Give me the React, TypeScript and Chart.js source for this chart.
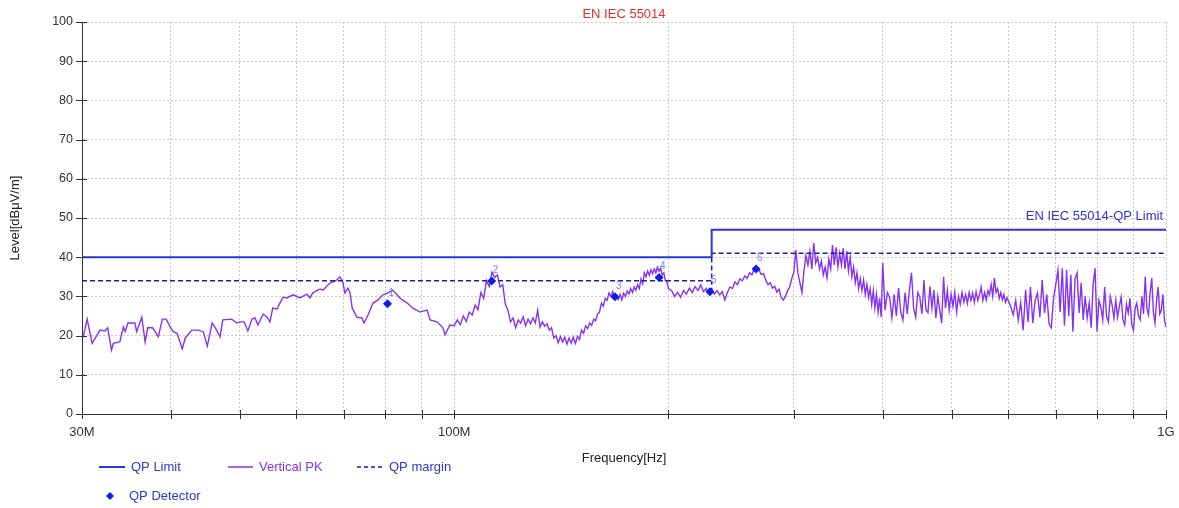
import { useEffect, useRef } from 'react';
import { Chart, registerables } from 'chart.js';

Chart.register(...registerables);

// ---------- data ----------
const gridFreqs = [30, 40, 50, 60, 70, 80, 90, 100, 200, 300, 400, 500, 600, 700, 800, 900, 1000];
const xLabelFreqs = [30, 100, 1000];
const xLabelTexts = ['30M', '100M', '1G'];
const yTicks = [0, 10, 20, 30, 40, 50, 60, 70, 80, 90, 100];

const limitFreq = [30, 230, 230, 1000];
const limitLevel = [40, 40, 47, 47];
const marginFreq = [30, 230, 230, 1000];
const marginLevel = [34, 34, 41, 41];
const dropFreq = [230, 230];
const dropLevel = [34, 31.2];

const qpFreq = [80.6, 112.9, 168.2, 194.0, 228.7, 265.5];
const qpLevel = [28.1, 33.9, 29.9, 34.8, 31.2, 37.0];
const qpLabels = ['1', '2', '3', '4', '5', '6'];

// Vertical PK trace, 30 – 100 MHz
const pkFreqLow = [
  30.1, 30.5, 31.0, 31.8, 32.3, 32.6, 33.0, 33.2, 33.9, 34.3, 34.5, 34.8, 35.6, 35.8, 36.4, 36.8, 37.1, 37.7, 38.4, 38.9,
  39.4, 39.9, 40.3, 40.8, 41.5, 41.9, 42.8, 43.7, 44.4, 45.0, 45.7, 46.1, 46.9, 47.3, 48.7, 49.5, 50.0, 50.7, 51.3, 52.0,
  52.5, 53.0, 53.9, 54.6, 55.1, 55.6, 56.4, 56.9, 57.5, 58.2, 59.4, 60.7, 62.1, 62.7, 63.3, 64.8, 65.4, 66.9, 68.2, 69.1,
  69.8, 70.2, 70.9, 71.4, 71.9, 73.0, 74.2, 74.7, 75.7, 76.9, 78.2, 79.4, 80.7, 82.0, 83.1, 83.9, 85.9, 87.5, 89.5, 91.6,
  92.5, 94.6, 96.4, 97.1, 98.6,
];
const pkLevelLow = [
  19.5, 24.2, 18.0, 21.4, 21.2, 22.0, 16.3, 18.0, 18.4, 22.2, 21.0, 23.2, 23.2, 21.0, 24.7, 18.4, 22.0, 22.0, 19.7, 24.2,
  24.2, 22.2, 21.0, 20.6, 16.6, 19.4, 21.4, 21.4, 21.0, 17.3, 23.2, 22.2, 19.7, 24.0, 24.2, 23.2, 23.5, 23.5, 21.2, 24.2,
  24.5, 22.7, 25.5, 24.7, 23.5, 27.0, 26.8, 28.3, 29.8, 29.6, 30.4, 29.6, 30.6, 29.6, 30.9, 31.9, 31.6, 33.4, 34.0, 35.0,
  33.4, 30.9, 32.1, 30.9, 27.0, 24.7, 24.5, 23.2, 25.3, 28.3, 29.1, 30.4, 30.9, 31.6, 30.4, 29.6, 28.3, 27.0, 26.0, 26.5,
  24.0, 23.5, 22.0, 20.2, 22.7,
];

// Vertical PK trace, 100 – 200 MHz
const pkFreqM1 = [
  100, 101, 102, 103, 104, 105, 106, 107, 108, 109, 110, 111, 112, 113, 114, 115, 116, 117, 118, 119,
  120, 121, 122, 123, 124, 125, 126, 127, 128, 129, 130, 131, 132, 133, 134, 135, 136, 137, 138, 139,
  140, 141, 142, 143, 144, 145, 146, 147, 148, 149, 150, 151, 152, 153, 154, 155, 156, 157, 158, 159,
  160, 161, 162, 163, 164, 165, 166, 167, 168, 169, 170, 171, 172, 173, 174, 175, 176, 177, 178, 179,
  180, 181, 182, 183, 184, 185, 186, 187, 188, 189, 190, 191, 192, 193, 194, 195, 196, 197, 198, 199,
  200,
];
const pkLevelM1 = [
  22.5, 24.0, 22.8, 25.0, 23.6, 26.0, 25.2, 27.8, 26.6, 31.0, 29.5, 34.0, 32.5, 36.2, 34.8, 35.5, 32.4, 33.0, 28.0, 26.5,
  23.5, 24.5, 22.0, 24.0, 23.2, 24.8, 22.5, 24.2, 23.0, 24.5, 23.2, 26.5, 22.2, 23.5, 22.4, 23.0, 21.4, 22.0, 19.4, 20.0,
  18.2, 19.8, 18.4, 19.6, 17.8, 19.4, 18.1, 19.6, 18.0, 19.8, 19.0, 21.4, 20.6, 22.5, 21.8, 23.2, 22.6, 24.2, 23.8, 25.5,
  26.0, 28.3, 27.5, 29.5, 29.0, 30.9, 30.0, 31.2, 29.6, 30.0, 29.2, 30.5, 29.1, 30.8, 30.0, 31.4, 30.6, 32.0, 31.0, 32.4,
  31.6, 33.0, 32.0, 34.5, 33.2, 36.0, 35.0, 36.5, 35.4, 36.8, 35.8, 37.0, 36.0, 37.5, 36.4, 37.2, 35.5, 36.0, 34.0, 33.7,
  32.0,
];

// Vertical PK trace, 200 – 300 MHz
const pkFreqM2 = [
  202, 204, 206, 208, 210, 212, 214, 216, 218, 220, 222, 224, 226, 228, 230, 232, 234, 236, 238, 240,
  242, 244, 246, 248, 250, 252, 254, 256, 258, 260, 262, 264, 266, 268, 270, 272, 274, 276, 278, 280,
  282, 284, 286, 288, 290, 292, 294, 296, 298,
];
const pkLevelM2 = [
  31.5, 30.0, 31.0, 29.8, 31.5, 30.6, 32.1, 31.0, 32.5, 31.5, 32.9, 31.2, 32.0, 30.8, 31.8, 30.6, 31.5, 30.4, 31.2, 29.1,
  31.0, 32.4, 32.0, 33.7, 33.0, 34.5, 34.0, 35.2, 34.6, 36.0, 35.5, 37.2, 36.5, 36.8, 35.6, 35.8, 34.2, 33.0, 33.5, 32.1,
  32.6, 31.1, 31.8, 29.8, 29.1, 30.0, 31.5, 32.4, 34.5,
];

// Vertical PK trace, 300 – 400 MHz
const pkFreqA = [
  300, 302, 304, 306, 308, 310, 312, 314, 316, 318, 320, 322, 324, 326, 328, 330, 332, 334, 336, 338,
  340, 342, 344, 346, 348, 350, 352, 354, 356, 358, 360, 362, 364, 366, 368, 370, 372, 374, 376, 378,
  380, 382, 384, 386, 388, 390, 392, 394, 396, 398, 400,
];
const pkLevelA = [
  36.2, 41.8, 36.0, 33.5, 31.0, 36.5, 40.5, 38.0, 41.5, 37.0, 43.6, 38.5, 40.0, 37.0, 39.0, 35.5, 37.5, 34.7, 39.5, 37.0,
  43.1, 38.0, 42.5, 37.5, 41.0, 38.0, 42.3, 37.0, 41.5, 36.5, 40.0, 35.0, 37.5, 33.5, 36.0, 32.0, 34.5, 31.5, 34.2, 30.5,
  33.0, 29.8, 32.0, 28.0, 31.5, 27.0, 30.5, 26.0, 29.5, 24.7, 38.5,
];

// Vertical PK trace, 400 – 600 MHz
const pkFreqB = [
  403, 406, 409, 412, 415, 418, 421, 424, 427, 430, 433, 436, 439, 442, 445, 448, 451, 454, 457, 460,
  463, 466, 469, 472, 475, 478, 481, 484, 487, 490, 493, 496, 499, 502, 505, 508, 511, 514, 517, 520,
  523, 526, 529, 532, 535, 538, 541, 544, 547, 550, 553, 556, 559, 562, 565, 568, 571, 574, 577, 580,
  583, 586, 589, 592, 595, 598,
];
const pkLevelB = [
  26.5, 31.0, 29.8, 24.5, 30.5, 25.0, 32.1, 26.0, 24.0, 31.0, 25.5, 31.6, 36.0, 27.0, 24.7, 31.0, 29.8, 25.5, 34.2, 26.5,
  25.8, 32.5, 27.0, 31.6, 24.5, 30.0, 26.5, 23.2, 35.0, 27.0, 31.5, 26.5, 30.5, 27.5, 31.1, 26.0, 30.0, 28.0, 31.0, 28.5,
  30.5, 28.2, 31.0, 29.0, 30.9, 28.5, 31.2, 29.0, 30.5, 32.4, 29.0, 31.0, 29.1, 31.5, 30.4, 33.0, 30.0, 34.7, 31.0, 32.0,
  29.5, 31.0, 29.1, 30.5, 28.5, 29.6,
];

// Vertical PK trace, 600 – 1000 MHz
const pkFreqC = [
  605, 610, 615, 620, 625, 630, 635, 640, 645, 650, 655, 660, 665, 670, 675, 680, 685, 690, 695, 700,
  705, 710, 715, 720, 725, 730, 735, 740, 745, 750, 755, 760, 765, 770, 775, 780, 785, 790, 795, 800,
  805, 810, 815, 820, 825, 830, 835, 840, 845, 850, 855, 860, 865, 870, 875, 880, 885, 890, 895, 900,
  905, 910, 915, 920, 925, 930, 935, 940, 945, 950, 955, 960, 965, 970, 975, 980, 985, 990, 995, 1000,
];
const pkLevelC = [
  27.5, 25.3, 29.0, 24.0, 28.5, 21.4, 31.6, 23.5, 32.4, 23.2, 29.0, 30.9, 24.7, 34.2, 25.8, 30.5, 23.0, 22.0, 29.5, 33.0,
  36.7, 26.0, 37.2, 22.5, 36.7, 25.0, 35.5, 21.0, 34.5, 36.0, 25.8, 33.5, 24.0, 30.0, 24.5, 28.3, 22.0, 33.0, 37.2, 21.0,
  29.0, 27.3, 24.0, 32.4, 25.0, 23.5, 30.0, 27.8, 24.5, 29.0, 24.7, 27.5, 29.8, 24.0, 22.7, 28.0, 25.8, 29.5, 23.0, 21.4,
  27.0, 28.3, 25.0, 24.0, 30.0, 25.5, 35.0, 27.0, 25.3, 31.0, 34.7, 26.0, 23.2, 29.0, 32.4, 25.5, 26.5, 30.5, 24.0, 22.2,
];

const pkFreq = [...pkFreqLow, ...pkFreqM1, ...pkFreqM2, ...pkFreqA, ...pkFreqB, ...pkFreqC];
const pkLevel = [...pkLevelLow, ...pkLevelM1, ...pkLevelM2, ...pkLevelA, ...pkLevelB, ...pkLevelC];

// ---------- styles ----------
const FONT = '"Liberation Sans", Arial, sans-serif';
const LIMIT_COLOR = '#2a36dc';
const MARGIN_COLOR = '#1c1cb4';
const PK_COLOR = '#8533f2';
const QP_COLOR = '#0a1ee8';
const TEXT_BLUE = '#3434d0';

const pairs = (xs: number[], ys: number[]) => xs.map((x, i) => ({ x, y: ys[i] }));

const overlayPlugin = {
  id: 'overlay',
  afterDraw(chart: any) {
    const { ctx, chartArea, scales } = chart;
    const xs = scales.x;
    const ys = scales.y;
    ctx.save();

    // tick marks crossing axes
    ctx.strokeStyle = '#333';
    ctx.lineWidth = 1;
    ctx.setLineDash([]);
    yTicks.forEach((v) => {
      const py = Math.round(ys.getPixelForValue(v)) + 0.5;
      ctx.beginPath();
      ctx.moveTo(chartArea.left - 6, py);
      ctx.lineTo(chartArea.left + 5, py);
      ctx.stroke();
    });
    gridFreqs.forEach((f) => {
      const px = Math.round(xs.getPixelForValue(f)) + 0.5;
      ctx.beginPath();
      ctx.moveTo(px, chartArea.bottom - 4);
      ctx.lineTo(px, chartArea.bottom + 5);
      ctx.stroke();
    });

    // title
    ctx.fillStyle = '#e0302c';
    ctx.font = `13px ${FONT}`;
    ctx.textAlign = 'center';
    ctx.textBaseline = 'middle';
    ctx.fillText('EN IEC 55014', (chartArea.left + chartArea.right) / 2, 14);

    // axis titles
    ctx.fillStyle = '#222';
    ctx.fillText('Frequency[Hz]', (chartArea.left + chartArea.right) / 2, 458);
    ctx.save();
    ctx.translate(15, (chartArea.top + chartArea.bottom) / 2);
    ctx.rotate(-Math.PI / 2);
    ctx.fillText('Level[dB\u03bcV/m]', 0, 0);
    ctx.restore();

    // limit label
    ctx.fillStyle = TEXT_BLUE;
    ctx.textAlign = 'right';
    ctx.fillText('EN IEC 55014-QP Limit', chartArea.right - 3, ys.getPixelForValue(limitLevel[3]) - 13);

    // marker numbers
    ctx.fillStyle = '#7a86e6';
    ctx.font = `10px ${FONT}`;
    ctx.textAlign = 'left';
    qpFreq.forEach((f, i) => {
      ctx.fillText(qpLabels[i], xs.getPixelForValue(f) + 1, ys.getPixelForValue(qpLevel[i]) - 11);
    });

    // legend
    ctx.font = `13px ${FONT}`;
    ctx.textBaseline = 'middle';
    const legLine = (x1: number, x2: number, y: number, color: string, w: number, dash: number[]) => {
      ctx.strokeStyle = color;
      ctx.lineWidth = w;
      ctx.setLineDash(dash);
      ctx.beginPath();
      ctx.moveTo(x1, y);
      ctx.lineTo(x2, y);
      ctx.stroke();
      ctx.setLineDash([]);
    };
    legLine(99, 125, 467, LIMIT_COLOR, 2, []);
    ctx.fillStyle = TEXT_BLUE;
    ctx.fillText('QP Limit', 131, 467);
    legLine(228, 253, 467, PK_COLOR, 1.5, []);
    ctx.fillStyle = PK_COLOR;
    ctx.fillText('Vertical PK', 259, 467);
    legLine(357, 383, 467, MARGIN_COLOR, 1.5, [4, 3]);
    ctx.fillStyle = TEXT_BLUE;
    ctx.fillText('QP margin', 389, 467);
    ctx.fillStyle = QP_COLOR;
    ctx.beginPath();
    ctx.moveTo(110, 492);
    ctx.lineTo(114, 496);
    ctx.lineTo(110, 500);
    ctx.lineTo(106, 496);
    ctx.closePath();
    ctx.fill();
    ctx.fillStyle = TEXT_BLUE;
    ctx.fillText('QP Detector', 129, 496);

    ctx.restore();
  },
};

export default function App() {
  const ref = useRef<HTMLCanvasElement | null>(null);

  useEffect(() => {
    if (!ref.current) return;
    const chart = new Chart(ref.current, {
      type: 'line',
      data: {
        datasets: [
          {
            label: 'QP Detector',
            data: pairs(qpFreq, qpLevel),
            showLine: false,
            pointStyle: 'rectRot',
            pointRadius: 4.5,
            backgroundColor: QP_COLOR,
            borderColor: QP_COLOR,
            borderWidth: 0,
            order: 0,
          },
          {
            label: 'QP Limit',
            data: pairs(limitFreq, limitLevel),
            borderColor: LIMIT_COLOR,
            borderWidth: 2,
            pointRadius: 0,
            order: 1,
          },
          {
            label: 'QP margin',
            data: pairs(marginFreq, marginLevel),
            borderColor: MARGIN_COLOR,
            borderWidth: 1.5,
            borderDash: [5, 3],
            pointRadius: 0,
            order: 2,
          },
          {
            label: 'drop',
            data: pairs(dropFreq, dropLevel),
            borderColor: MARGIN_COLOR,
            borderWidth: 1.5,
            borderDash: [4, 3],
            pointRadius: 0,
            order: 3,
          },
          {
            label: 'Vertical PK',
            data: pairs(pkFreq, pkLevel),
            borderColor: PK_COLOR,
            borderWidth: 1.4,
            pointRadius: 0,
            tension: 0,
            order: 4,
          },
        ],
      },
      options: {
        animation: false,
        responsive: false,
        events: [],
        layout: { padding: { left: 0, right: 13, top: 22, bottom: 0 } },
        plugins: {
          legend: { display: false },
          tooltip: { enabled: false },
          title: { display: false },
        },
        scales: {
          x: {
            type: 'logarithmic',
            min: 30,
            max: 1000,
            afterBuildTicks: (s: any) => {
              s.ticks = gridFreqs.map((v) => ({ value: v }));
            },
            afterFit: (s: any) => {
              s.height = 94;
              s.paddingLeft = 0;
              s.paddingRight = 0;
            },
            ticks: {
              autoSkip: false,
              maxRotation: 0,
              padding: 11,
              color: '#333',
              font: { family: FONT, size: 13 },
              callback: (v: any) => {
                const i = xLabelFreqs.findIndex((f) => Math.abs(f - Number(v)) < 1e-6);
                return i >= 0 ? xLabelTexts[i] : '';
              },
            },
            grid: { color: '#c9c9c9', lineWidth: 1, drawTicks: false },
            border: { display: true, color: '#333', width: 1, dash: [2, 2] },
          },
          y: {
            type: 'linear',
            min: 0,
            max: 100,
            afterBuildTicks: (s: any) => {
              s.ticks = yTicks.map((v) => ({ value: v }));
            },
            afterFit: (s: any) => {
              s.width = 82;
              s.paddingTop = 0;
              s.paddingBottom = 0;
            },
            ticks: {
              padding: 9,
              color: '#333',
              font: { family: FONT, size: 12.5 },
            },
            grid: { color: '#c9c9c9', lineWidth: 1, drawTicks: false },
            border: { display: true, color: '#333', width: 1, dash: [2, 2] },
          },
        },
      },
      plugins: [overlayPlugin],
    });
    return () => chart.destroy();
  }, []);

  return (
    <div style={{ position: 'absolute', left: 0, top: 0, width: 1179, height: 508, background: '#fff' }}>
      <canvas ref={ref} width={1179} height={508} style={{ width: 1179, height: 508, display: 'block' }} />
    </div>
  );
}
